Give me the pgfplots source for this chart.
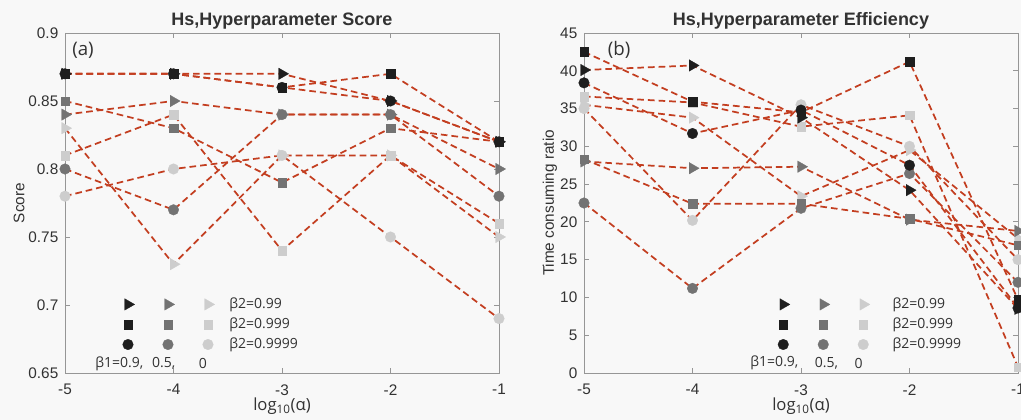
\documentclass[border=0pt]{standalone}
\usepackage{fontspec}
\setmainfont{Liberation Sans}
\newfontfamily\myr{Open Sans}
\usepackage{pgfplots}
\pgfplotsset{compat=1.18}
\definecolor{bg}{RGB}{248,248,248}
\definecolor{ln}{RGB}{195,62,32}
\definecolor{cK}{RGB}{30,30,30}
\definecolor{cG}{RGB}{115,115,115}
\definecolor{cL}{RGB}{205,205,205}
\definecolor{axc}{RGB}{150,150,150}
\definecolor{txc}{RGB}{50,50,50}
\pgfplotsset{
  myaxis/.style={
    scale only axis, width=325.5pt, height=255pt, clip=false,
    xmin=-5, xmax=-1, xtick={-5,-4,-3,-2,-1},
    axis line style={axc, line width=0.6pt},
    tick style={axc, line width=0.6pt}, major tick length=4pt, tick align=inside,
    ticklabel style={font=\fontsize{11.5}{13}\selectfont, text=txc},
    xticklabel style={yshift=-5pt},
    yticklabel style={xshift=-1.5pt},
    /pgf/number format/assume math mode=true,
    every axis title/.style={at={(axis description cs:0.5,1)}, anchor=base, yshift=5.5pt, inner sep=0pt, font=\bfseries\fontsize{13.5}{15}\selectfont, text=txc},
    xlabel style={at={(axis description cs:0.5,-0.109)}, anchor=base, inner sep=0pt, font=\myr\fontsize{12.5}{14}\selectfont, text=txc},
    legend columns=4,
    legend cell align=left,
    legend style={draw=none, fill=none, anchor=north west, font=\myr\fontsize{10.5}{12}\selectfont, text=txc, row sep=5.5pt, nodes={inner sep=0pt}},
  },
  ser/.style={color=ln, line width=1.3pt, dash pattern=on 5pt off 3pt},
  tK/.style={mark=triangle*, mark size=5pt, mark options={solid, rotate=-90, fill=cK, draw=cK, line width=0.2pt}},
  tG/.style={mark=triangle*, mark size=5pt, mark options={solid, rotate=-90, fill=cG, draw=cG, line width=0.2pt}},
  tL/.style={mark=triangle*, mark size=5pt, mark options={solid, rotate=-90, fill=cL, draw=cL, line width=0.2pt}},
  sK/.style={mark=square*, mark size=3.2pt, mark options={solid, fill=cK, draw=cK, line width=0.2pt}},
  sG/.style={mark=square*, mark size=3.2pt, mark options={solid, fill=cG, draw=cG, line width=0.2pt}},
  sL/.style={mark=square*, mark size=3.2pt, mark options={solid, fill=cL, draw=cL, line width=0.2pt}},
  cKm/.style={mark=*, mark size=4pt, mark options={solid, fill=cK, draw=cK, line width=0.2pt}},
  cGm/.style={mark=*, mark size=4pt, mark options={solid, fill=cG, draw=cG, line width=0.2pt}},
  cLm/.style={mark=*, mark size=4pt, mark options={solid, fill=cL, draw=cL, line width=0.2pt}},
}
\begin{document}
\begin{tikzpicture}
\fill[bg] (0,0) rectangle (765.75pt,315pt);
% ---------------- panel (a)
\begin{axis}[myaxis, at={(48.75pt,35.25pt)}, anchor=south west,
  ymin=0.65, ymax=0.9, ytick={0.65,0.7,...,0.9},
  yticklabel style={/pgf/number format/.cd, fixed, precision=2},
  title={Hs,Hyperparameter Score},
  xlabel={log\textsubscript{10}(α)},
  ylabel={Score},
  ylabel style={at={(axis description cs:-0.106,0.5)}, anchor=center, font=\fontsize{11.5}{13}\selectfont, text=txc},
  legend style={at={(axis description cs:0.123,0.229)}, /tikz/every even column/.append style={column sep=20pt}},
]
\addplot[ser, forget plot, cLm] coordinates {(-5,0.78)(-4,0.80)(-3,0.81)(-2,0.75)(-1,0.69)};
\addplot[ser, forget plot, sL] coordinates {(-5,0.81)(-4,0.84)(-3,0.74)(-2,0.81)(-1,0.76)};
\addplot[ser, forget plot, tL] coordinates {(-5,0.83)(-4,0.73)(-3,0.81)(-2,0.81)(-1,0.75)};
\addplot[ser, forget plot, cGm] coordinates {(-5,0.80)(-4,0.77)(-3,0.84)(-2,0.84)(-1,0.78)};
\addplot[ser, forget plot, sG] coordinates {(-5,0.85)(-4,0.83)(-3,0.79)(-2,0.83)(-1,0.82)};
\addplot[ser, forget plot, tG] coordinates {(-5,0.84)(-4,0.85)(-3,0.84)(-2,0.84)(-1,0.80)};
\addplot[ser, forget plot, cKm] coordinates {(-5,0.87)(-4,0.87)(-3,0.86)(-2,0.85)(-1,0.82)};
\addplot[ser, forget plot, sK] coordinates {(-5,0.87)(-4,0.87)(-3,0.86)(-2,0.87)(-1,0.82)};
\addplot[ser, forget plot, tK] coordinates {(-5,0.87)(-4,0.87)(-3,0.87)(-2,0.85)(-1,0.82)};
\addlegendimage{only marks, tK}\addlegendentry{}
\addlegendimage{only marks, tG}\addlegendentry{}
\addlegendimage{only marks, tL}\addlegendentry{}
\addlegendimage{empty legend}\addlegendentry{\hspace*{-10pt}β2=0.99}
\addlegendimage{only marks, sK}\addlegendentry{}
\addlegendimage{only marks, sG}\addlegendentry{}
\addlegendimage{only marks, sL}\addlegendentry{}
\addlegendimage{empty legend}\addlegendentry{\hspace*{-10pt}β2=0.999}
\addlegendimage{only marks, cKm}\addlegendentry{}
\addlegendimage{only marks, cGm}\addlegendentry{}
\addlegendimage{only marks, cLm}\addlegendentry{}
\addlegendimage{empty legend}\addlegendentry{\hspace*{-10pt}β2=0.9999}
\node[font=\myr\fontsize{10.5}{12}\selectfont, text=txc] at (axis cs:-4.50,0.657) {β1=0.9,};
\node[font=\myr\fontsize{10.5}{12}\selectfont, text=txc] at (axis cs:-4.09,0.657) {0.5,};
\node[font=\myr\fontsize{10.5}{12}\selectfont, text=txc] at (axis cs:-3.73,0.657) {0};
\node[font=\myr\fontsize{14}{16}\selectfont, text=txc] at (axis cs:-4.834,0.8875) {(a)};
\end{axis}
% ---------------- panel (b)
\begin{axis}[myaxis, at={(438pt,35.25pt)}, anchor=south west,
  ymin=0, ymax=45, ytick={0,5,...,45},
  title={Hs,Hyperparameter Efficiency},
  xlabel={log\textsubscript{10}(α)},
  ylabel={Time consuming ratio},
  ylabel style={at={(axis description cs:-0.0785,0.5)}, anchor=center, font=\fontsize{11.5}{13}\selectfont, text=txc},
  legend style={at={(axis description cs:0.437,0.229)}, /tikz/every even column/.append style={column sep=20pt}},
]
\addplot[ser, forget plot, cLm] coordinates {(-5,35.0)(-4,20.2)(-3,35.5)(-2,30.0)(-1,15.0)};
\addplot[ser, forget plot, sL] coordinates {(-5,36.6)(-4,35.8)(-3,32.6)(-2,34.1)(-1,0.8)};
\addplot[ser, forget plot, tL] coordinates {(-5,35.5)(-4,33.8)(-3,23.4)(-2,29.5)(-1,17.8)};
\addplot[ser, forget plot, cGm] coordinates {(-5,22.5)(-4,11.2)(-3,21.8)(-2,26.4)(-1,12.0)};
\addplot[ser, forget plot, sG] coordinates {(-5,28.3)(-4,22.4)(-3,22.4)(-2,20.4)(-1,16.9)};
\addplot[ser, forget plot, tG] coordinates {(-5,28.0)(-4,27.1)(-3,27.3)(-2,20.3)(-1,18.8)};
\addplot[ser, forget plot, cKm] coordinates {(-5,38.4)(-4,31.7)(-3,34.8)(-2,27.5)(-1,8.6)};
\addplot[ser, forget plot, sK] coordinates {(-5,42.5)(-4,35.9)(-3,34.5)(-2,41.2)(-1,9.7)};
\addplot[ser, forget plot, tK] coordinates {(-5,40.1)(-4,40.7)(-3,33.8)(-2,24.2)(-1,8.5)};
\addlegendimage{only marks, tK}\addlegendentry{}
\addlegendimage{only marks, tG}\addlegendentry{}
\addlegendimage{only marks, tL}\addlegendentry{}
\addlegendimage{empty legend}\addlegendentry{\hspace*{-4pt}β2=0.99}
\addlegendimage{only marks, sK}\addlegendentry{}
\addlegendimage{only marks, sG}\addlegendentry{}
\addlegendimage{only marks, sL}\addlegendentry{}
\addlegendimage{empty legend}\addlegendentry{\hspace*{-4pt}β2=0.999}
\addlegendimage{only marks, cKm}\addlegendentry{}
\addlegendimage{only marks, cGm}\addlegendentry{}
\addlegendimage{only marks, cLm}\addlegendentry{}
\addlegendimage{empty legend}\addlegendentry{\hspace*{-4pt}β2=0.9999}
\node[font=\myr\fontsize{10.5}{12}\selectfont, text=txc] at (axis cs:-3.245,1.3) {β1=0.9,};
\node[font=\myr\fontsize{10.5}{12}\selectfont, text=txc] at (axis cs:-2.765,1.3) {0.5,};
\node[font=\myr\fontsize{10.5}{12}\selectfont, text=txc] at (axis cs:-2.47,1.3) {0};
\node[font=\myr\fontsize{14}{16}\selectfont, text=txc] at (axis cs:-4.677,42.75) {(b)};
\end{axis}
\pgfresetboundingbox
\useasboundingbox (0,0) rectangle (765.75pt,315pt);
\end{tikzpicture}
\end{document}
